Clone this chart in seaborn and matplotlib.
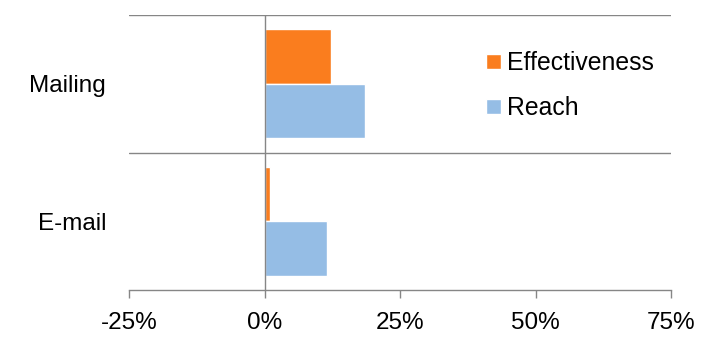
import matplotlib
matplotlib.use("Agg")
import matplotlib.pyplot as plt
import seaborn as sns
import pandas as pd

categories = ["Mailing", "E-mail"]
series = ["Effectiveness", "Reach"]
effectiveness = [12.2, 1.1]
reach = [18.6, 11.6]
xticks = [-25, 0, 25, 50, 75]
xtick_labels = ["-25%", "0%", "25%", "50%", "75%"]
colors = ["#FA7D1E", "#95BDE5"]

df = pd.DataFrame({
    "Channel": categories * 2,
    "Series": [series[0]] * 2 + [series[1]] * 2,
    "Value": effectiveness + reach,
})

sns.set_style("white")
plt.rcParams["font.family"] = ["Liberation Sans", "DejaVu Sans"]
plt.rcParams["text.color"] = "black"
plt.rcParams["xtick.color"] = "black"
plt.rcParams["ytick.color"] = "black"

fig = plt.figure(figsize=(7.08, 3.55), dpi=100)
ax = fig.add_axes([129 / 708, 1 - 290 / 355, (671 - 129) / 708, (290 - 15) / 355])

sns.barplot(data=df, y="Channel", x="Value", hue="Series", order=categories,
            hue_order=series, palette=colors, orient="h", width=0.79,
            saturation=1, ax=ax, legend=True)

grid_c = "#868686"
ax.set_xlim(-25, 75)
ax.set_ylim(1.5, -0.5)
for y in (-0.5, 0.5):
    ax.axhline(y, color=grid_c, lw=1, zorder=0)
ax.axvline(0, color=grid_c, lw=1, zorder=3)

for s in ("top", "left", "right"):
    ax.spines[s].set_visible(False)
ax.spines["bottom"].set_color(grid_c)
ax.spines["bottom"].set_linewidth(1)

ax.set_xticks(xticks)
ax.set_xticklabels(xtick_labels)
ax.tick_params(axis="x", bottom=True, length=6, width=1, color=grid_c,
               labelcolor="black", labelsize=17.5, pad=10)
ax.tick_params(axis="y", left=False, labelcolor="black", labelsize=17.5, pad=13)
ax.set_xlabel("")
ax.set_ylabel("")

leg = ax.legend(loc="upper left", bbox_to_anchor=(0.64, 0.904), frameon=False,
                fontsize=17.8, handlelength=0.6, handleheight=0.6,
                handletextpad=0.25, labelspacing=0.85, borderaxespad=0)
for t in leg.get_texts():
    t.set_color("black")

fig.savefig("out.png", dpi=100)
